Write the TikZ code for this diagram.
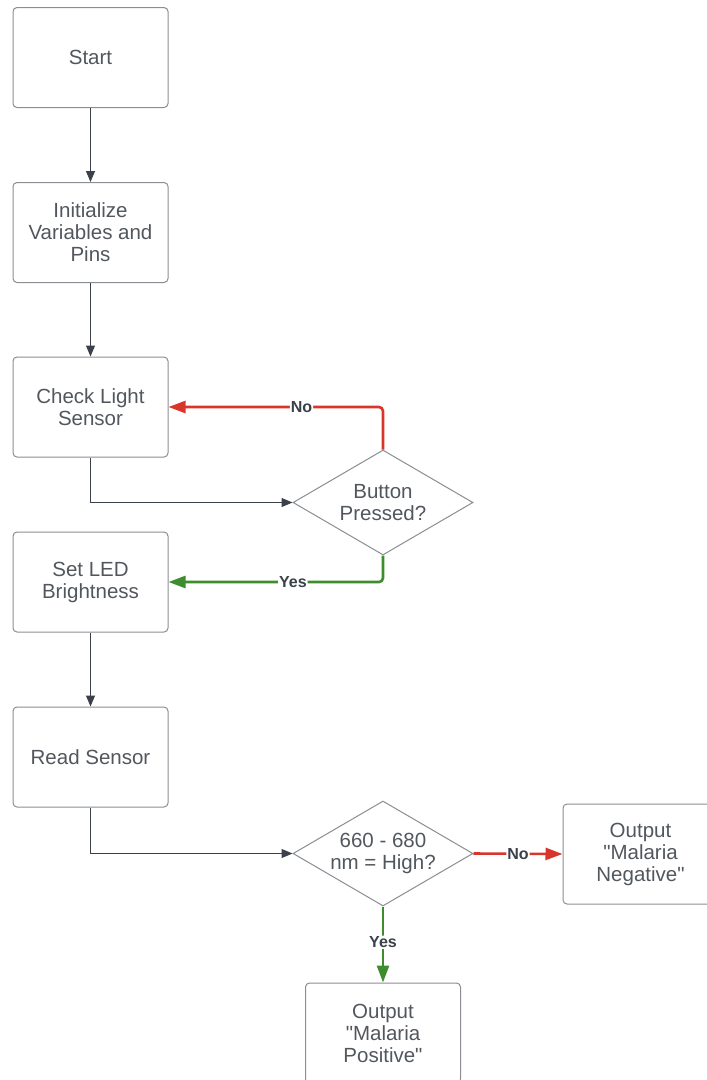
\documentclass[tikz,border=0pt]{standalone}
\usepackage{fontspec}
\setmainfont{Liberation Sans}
\usetikzlibrary{shapes.geometric,arrows.meta}
\definecolor{txtgray}{HTML}{52575D}
\definecolor{boxgray}{HTML}{8A8D91}
\definecolor{linegray}{HTML}{3A414A}
\definecolor{noRed}{HTML}{D9352A}
\definecolor{yesGreen}{HTML}{3D8C2D}
\begin{document}
\begin{tikzpicture}[x = 1pt, y = -1pt,
		box/.style = {draw = boxgray, line width = 1pt, rounded corners = 4pt, minimum width = 155pt, minimum height = 100pt, align = center, text = txtgray, font = \fontsize{20.5}{22}\selectfont},
		decide/.style = {draw = boxgray, line width = 1pt, diamond, aspect = 1.714, inner sep = 0pt, minimum width = 180pt, minimum height = 105pt, align = center, text = txtgray, font = \fontsize{20.5}{22}\selectfont},
		flow/.style = {draw = linegray, line width = 1pt, -{Triangle[length = 11pt, width = 9pt]}},
		nope/.style = {draw = noRed, line width = 2.6pt, rounded corners = 4pt, -{Triangle[length = 17pt, width = 12pt]}},
		yep/.style = {draw = yesGreen, line width = 2.6pt, rounded corners = 4pt, -{Triangle[length = 17pt, width = 12pt]}},
		tag/.style = {fill = white, inner sep = 1pt, text = linegray, font = \fontsize{16}{17}\selectfont\bfseries}]
		\useasboundingbox (0,0) rectangle (707,1080);
		\node [box] (start) at (90.5,57.5) {Start};
		\node [box] (init) at (90.5,232.5) {Initialize\\Variables and\\Pins};
		\node [box] (check) at (90.5,407) {Check Light\\Sensor};
		\node [decide] (button) at (383,502.5) {Button\\Pressed?};
		\node [box] (led) at (90.5,582) {Set LED\\Brightness};
		\node [box] (read) at (90.5,757) {Read Sensor};
		\node [decide] (high) at (383,853.5) {660 - 680\\nm = High?};
		\node [box] (neg) at (640.5,854) {Output\\\textquotedbl Malaria\\Negative\textquotedbl};
		\node [box] (pos) at (383,1033) {Output\\\textquotedbl Malaria\\Positive\textquotedbl};
		\draw [flow] (start) -- (init);
		\draw [flow] (init) -- (check);
		\draw [flow] (check.south) |- (button.west);
		\draw [nope] (button.north) |- (check.east) node [tag, pos = 0.69] {No};
		\draw [yep] (button.south) |- (led.east) node [tag, pos = 0.71] {Yes};
		\draw [flow] (led) -- (read);
		\draw [flow] (read.south) |- (high.west);
		\draw [nope] (high.east) -- (neg.west) node [tag, pos = 0.5] {No};
		\draw [yep] (high.south) -- (pos.north) node [tag, pos = 0.47] {Yes};
	\end{tikzpicture}
\end{document}
